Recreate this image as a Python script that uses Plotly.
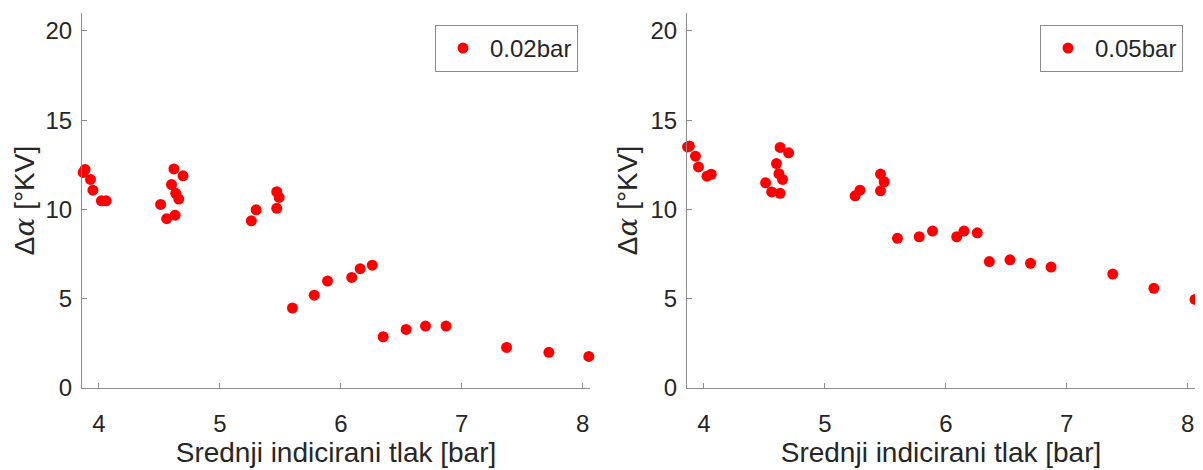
import plotly.graph_objects as go

# Shared x values (mean indicated pressure, bar)
x_vals = [3.87, 3.885, 3.93, 3.95, 4.02, 4.06,
          4.51, 4.56, 4.63, 4.62, 4.695, 4.60, 4.635, 4.66,
          5.26, 5.30, 5.47, 5.47, 5.49,
          5.60, 5.78, 5.89, 6.09, 6.16, 6.26, 6.35, 6.54, 6.70, 6.87, 7.37, 7.72, 8.05]

y_002 = [12.07, 12.24, 11.68, 11.08, 10.48, 10.48,
         10.28, 9.48, 9.68, 12.27, 11.88, 11.39, 10.90, 10.58,
         9.36, 9.98, 10.06, 10.99, 10.67,
         4.48, 5.20, 5.99, 6.19, 6.68, 6.88, 2.87, 3.28, 3.47, 3.47, 2.27, 2.00, 1.77]

x_005 = [3.865, 3.88, 3.93, 3.955, 4.025, 4.06,
         4.51, 4.56, 4.63, 4.60, 4.63, 4.70, 4.62, 4.65,
         5.25, 5.29, 5.46, 5.49, 5.46,
         5.60, 5.78, 5.89, 6.09, 6.15, 6.26, 6.36, 6.53, 6.70, 6.87, 7.38, 7.72, 8.06]

y_005 = [13.50, 13.55, 12.98, 12.38, 11.86, 11.97,
         11.49, 10.98, 10.90, 12.57, 13.47, 13.17, 12.00, 11.68,
         10.76, 11.08, 11.98, 11.55, 11.04,
         8.38, 8.47, 8.79, 8.47, 8.79, 8.69, 7.08, 7.18, 6.98, 6.77, 6.38, 5.58, 4.96]

x_ticks = [4, 5, 6, 7, 8]
y_ticks = [0, 5, 10, 15, 20]
labels = ["0.02bar", "0.05bar"]

# page has an 8px body margin; figure sized to fit the 1203x470 window
OFF = 8
W, H = 1203 - OFF, 470 - OFF
FONT = "Liberation Sans"
AX = "#8c8c8c"
TXT = "#262626"


def px(p):
    return (p - OFF) / W


def py(p):
    return 1 - (p - OFF) / H


fig = go.Figure()
fig.add_trace(go.Scatter(x=x_vals, y=y_002, mode="markers", name=labels[0],
                         marker=dict(color="#ff0000", size=11, line=dict(width=0)),
                         xaxis="x", yaxis="y", legend="legend", cliponaxis=False))
fig.add_trace(go.Scatter(x=x_005, y=y_005, mode="markers", name=labels[1],
                         marker=dict(color="#ff0000", size=11, line=dict(width=0)),
                         xaxis="x2", yaxis="y2", legend="legend2", cliponaxis=False))

ydom = [py(388), py(13)]
common_x = dict(range=[3.86, 8.06], tickvals=x_ticks, showline=True, linecolor=AX, linewidth=1,
                ticks="inside", ticklen=5, tickcolor=AX, showgrid=False, zeroline=False,
                tickfont=dict(family=FONT, size=24, color=TXT), automargin=False,
                title=dict(text="Srednji indicirani tlak [bar]", font=dict(family=FONT, size=28, color=TXT),
                           standoff=4),
                ticklabelstandoff=14)
common_y = dict(range=[0, 21], tickvals=y_ticks, showline=True, linecolor=AX, linewidth=1,
                ticks="inside", ticklen=5, tickcolor=AX, showgrid=False, zeroline=False,
                tickfont=dict(family=FONT, size=24, color=TXT), domain=ydom, automargin=False,
                title=dict(text="Δ<span style=\"font-family:'DejaVu Serif'\"><i>α</i></span> [°KV]",
                           font=dict(family=FONT, size=28, color=TXT), standoff=4),
                ticklabelstandoff=4)

leg = dict(yanchor="top", xanchor="right", y=py(25),
           bordercolor=AX, borderwidth=1, bgcolor="white",
           font=dict(family=FONT, size=24, color=TXT), itemwidth=44)

fig.update_layout(
    width=W, height=H,
    margin=dict(l=0, r=0, t=0, b=0),
    paper_bgcolor="white", plot_bgcolor="white",
    xaxis=dict(domain=[px(82), px(590)], anchor="y", **common_x),
    yaxis=dict(anchor="x", **common_y),
    xaxis2=dict(domain=[px(687), px(1195)], anchor="y2", **common_x),
    yaxis2=dict(anchor="x2", **common_y),
    legend=dict(x=px(578), **leg),
    legend2=dict(x=px(1183), **leg),
    showlegend=True,
)

fig.write_html("out.html")
